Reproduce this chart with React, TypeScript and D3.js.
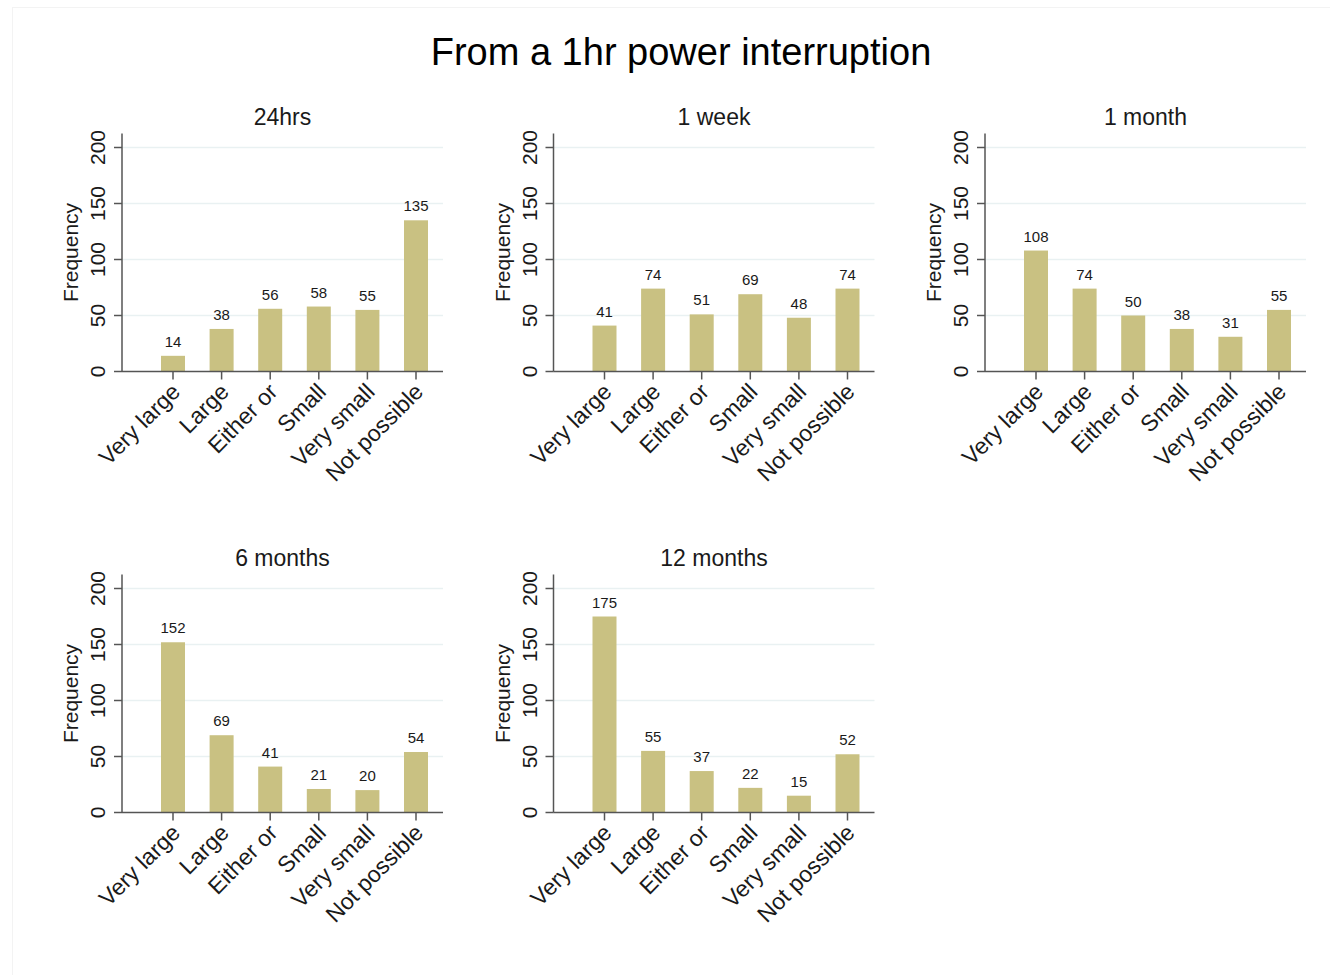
import React from "react";
import * as d3 from "d3";

const categories = ["Very large", "Large", "Either or", "Small", "Very small", "Not possible"];
const panelTitles = ["24hrs", "1 week", "1 month", "6 months", "12 months"];
const values24hrs = [14, 38, 56, 58, 55, 135];
const values1week = [41, 74, 51, 69, 48, 74];
const values1month = [108, 74, 50, 38, 31, 55];
const values6months = [152, 69, 41, 21, 20, 54];
const values12months = [175, 55, 37, 22, 15, 52];
const yTicks = [0, 50, 100, 150, 200];
const mainTitle = "From a 1hr power interruption";
const yLabel = "Frequency";

const panelValues = [values24hrs, values1week, values1month, values6months, values12months];

const W = 1330;
const H = 975;
const FONT = "'Liberation Sans', Arial, sans-serif";
const BAR = "#c9c182";
const AXIS = "#555555";
const GRID = "#e9f1f2";
const TEXT = "#1a1a1a";

const colX = [122, 553.5, 985];
const rowY = [371.5, 812.5];
const plotW = 321;
const plotH = 238;
const barW = 24;

function Panel({ title, values, ox, oy }: { title: string; values: number[]; ox: number; oy: number }) {
  const y = d3.scaleLinear().domain([0, 212.5]).range([oy, oy - plotH]);
  const x = d3.scalePoint<string>().domain(categories).range([ox + 51, ox + 294]);
  return (
    <g>
      <text x={ox + plotW / 2} y={oy - 247} textAnchor="middle" fontSize={23} fill={TEXT} fontFamily={FONT}>
        {title}
      </text>
      {yTicks.filter((t) => t > 0).map((t) => (
        <line key={"g" + t} x1={ox} x2={ox + plotW} y1={y(t)} y2={y(t)} stroke={GRID} strokeWidth={1.5} />
      ))}
      {categories.map((c, i) => (
        <g key={c}>
          <rect x={x(c)! - barW / 2} y={y(values[i])} width={barW} height={oy - y(values[i])} fill={BAR} />
          <text x={x(c)!} y={y(values[i]) - 9} textAnchor="middle" fontSize={15} fill={TEXT} fontFamily={FONT}>
            {values[i]}
          </text>
          <line x1={x(c)!} x2={x(c)!} y1={oy} y2={oy + 8} stroke={AXIS} strokeWidth={1.5} />
          <text
            transform={`translate(${x(c)! + 3},${oy + 16}) rotate(-45)`}
            textAnchor="end"
            dominantBaseline="central"
            fontSize={23}
            fill={TEXT}
            fontFamily={FONT}
          >
            {c}
          </text>
        </g>
      ))}
      <line x1={ox} x2={ox + plotW} y1={oy} y2={oy} stroke={AXIS} strokeWidth={1.5} />
      <line x1={ox} x2={ox} y1={oy} y2={oy - plotH} stroke={AXIS} strokeWidth={1.5} />
      {yTicks.map((t) => (
        <g key={"t" + t}>
          <line x1={ox - 8} x2={ox} y1={y(t)} y2={y(t)} stroke={AXIS} strokeWidth={1.5} />
          <text
            transform={`translate(${ox - 17},${y(t)}) rotate(-90)`}
            textAnchor="middle"
            fontSize={21}
            fill={TEXT}
            fontFamily={FONT}
          >
            {t}
          </text>
        </g>
      ))}
      <text
        transform={`translate(${ox - 44},${oy - plotH / 2}) rotate(-90)`}
        textAnchor="middle"
        fontSize={21}
        fill={TEXT}
        fontFamily={FONT}
      >
        {yLabel}
      </text>
    </g>
  );
}

export default function App() {
  return (
    <svg
      width={W}
      height={H}
      style={{ position: "absolute", left: 0, top: 0, display: "block", background: "#ffffff" }}
    >
      <rect x={12.5} y={7.5} width={W} height={H} fill="none" stroke="#f3f3f3" strokeWidth={1} />
      <text x={681} y={65} textAnchor="middle" fontSize={38} fill="#000000" fontFamily={FONT}>
        {mainTitle}
      </text>
      {panelValues.map((vals, i) => (
        <Panel key={panelTitles[i]} title={panelTitles[i]} values={vals} ox={colX[i % 3]} oy={rowY[Math.floor(i / 3)]} />
      ))}
    </svg>
  );
}
